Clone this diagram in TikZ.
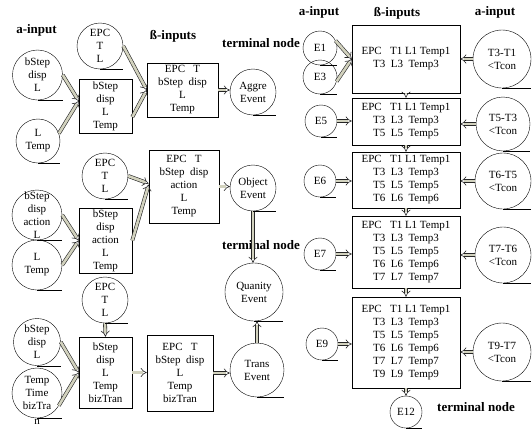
\documentclass[tikz,border=0pt]{standalone}
\usepackage{fontspec}
\setmainfont{Liberation Serif}
\usetikzlibrary{arrows.meta}
\definecolor{arrowfill}{RGB}{210,210,190}
\tikzset{
  ev/.style={circle,draw=black,thin,inner sep=0pt,minimum size=#1,align=center,font=\fontsize{11}{13}\selectfont},
  bx/.style 2 args={rectangle,draw=black,semithick,inner sep=1pt,minimum width=#1,minimum height=#2,align=center,font=\fontsize{11}{13}\selectfont},
  hd/.style={font=\fontsize{13}{15}\selectfont\bfseries},
  dbl/.style={draw=black!85,line width=0.6pt,double=arrowfill,double distance=2.6pt,-{Implies}},
  every label/.style={align=center,inner sep=0pt,font=\fontsize{11}{13}\selectfont},
}

\begin{document}
\begin{tikzpicture}[x=1pt,y=-1pt]
\useasboundingbox (0,0) rectangle (532,431);

% left part
\node[hd] (ain1) at (36.5,30) {a-input};
\node[hd] (bin1) at (173,36) {ß-inputs};
\node[hd] (term1) at (261,43) {terminal node};
\node[hd] (term2) at (261,245) {terminal node};

\node[ev=50pt] (a1) at (37.5,75) {bStep\\disp\\L};
\node[ev=44pt] (a2) at (38,141) {L\\Temp};
\node[ev=46pt] (c1) at (100,46) {EPC\\T\\L};
\node[bx={53pt}{54pt}] (box1) at (105.5,106) {bStep\\disp\\L\\Temp};
\node[bx={71pt}{54pt}] (box2) at (182.5,90) {EPC~~~T\\bStep~~disp\\L\\Temp};
\node[ev=46pt] (agg) at (253,92) {Aggre\\Event};

\node[ev=46pt] (c2) at (105,176) {EPC\\T\\L};
\node[ev=50pt,label={center:{bStep\\disp\\action\\L}}] (a3) at (37,215) {};
\node[ev=50pt] (a4) at (37,265) {L\\Temp};
\node[bx={53pt}{65pt}] (box4) at (105.5,240.5) {bStep\\disp\\action\\L\\Temp};
\node[bx={70pt}{73pt}] (box3) at (184,186.5) {EPC~~~T\\bStep~~disp\\action\\L\\Temp};
\node[ev=46pt] (obj) at (253,188) {Object\\Event};
\node[ev=58pt] (qty) at (254,292) {Quanity\\Event};

\node[ev=46pt] (c3) at (105,300) {EPC\\T\\L};
\node[ev=47pt] (a5) at (37,342) {bStep\\disp\\L};
\node[ev=50pt,label={center:{Temp\\Time\\bizTra}},label={[yshift=-1pt]below:n}] (a6) at (37,393) {};
\node[bx={53pt}{71pt}] (box5) at (105.5,372.5) {bStep\\disp\\L\\Temp\\bizTran};
\node[bx={66pt}{76pt}] (box6) at (180,373) {EPC~~~T\\bStep~~disp\\L\\Temp\\bizTran};
\node[ev=54pt] (trans) at (257,370) {Trans\\Event};

\draw[dbl] (a1.east) -- ([yshift=5pt]box1.west);
\draw[dbl] (a2.20) -- ([yshift=5pt]box1.west);
\draw[dbl] (c1.east) -- (box2.west);
\draw[dbl] ([yshift=-11pt]box1.east) -- (box2.west);
\draw[dbl] (box2.east) -- (box2.east -| agg.west);
\draw[dbl] (c2.east) -- ([yshift=3pt]box3.west);
\draw[dbl] (box4.east) -- ([yshift=2pt]box3.west);
\draw[dbl] (a3.east) -- (box4.west);
\draw[dbl] (a4.east) -- (box4.west);
\draw[dbl] (box3.east) -- (box3.east -| obj.west);
\draw[dbl] (obj.south) -- (obj.south |- qty.north);
\draw[dbl] (c3.south) -- (box5.north);
\draw[dbl] (a5.east) -- (box5.west);
\draw[dbl] (a6.-30) -- (box5.west);
\draw[dbl] (box5.east) -- (box5.east -| box6.west);
\draw[dbl] (box6.east) -- (box6.east -| trans.west);
\draw[dbl] (trans.north) -- (qty.south -| trans.north);

% right part
\node[hd] (ain2) at (319,12) {a-input};
\node[hd] (bin2) at (397,13) {ß-inputs};
\node[hd] (ain3) at (495,12) {a-input};
\node[hd] (term3) at (476,407) {terminal node};

\node[bx={108pt}{68pt}] (r1) at (406,59) {EPC~~~T1 L1 Temp1\\T3~~L3~~Temp3};
\node[bx={108pt}{47pt}] (r2) at (406,121.5) {EPC~~~T1 L1 Temp1\\T3~~L3~~Temp3\\T5~~L5~~Temp5};
\node[bx={108pt}{56pt}] (r3) at (406,180) {EPC~~~T1 L1 Temp1\\T3~~L3~~Temp3\\T5~~L5~~Temp5\\T6~~L6~~Temp6};
\node[bx={108pt}{72pt}] (r4) at (406,252) {EPC~~~T1 L1 Temp1\\T3~~L3~~Temp3\\T5~~L5~~Temp5\\T6~~L6~~Temp6\\T7~~L7~~Temp7};
\node[bx={108pt}{91pt}] (r5) at (406,342.5) {EPC~~~T1 L1 Temp1\\T3~~L3~~Temp3\\T5~~L5~~Temp5\\T6~~L6~~Temp6\\T7~~L7~~Temp7\\T9~~L9~~Temp9};

\node[ev=34pt] (e1) at (320,48) {E1};
\node[ev=34pt] (e3) at (320,77) {E3};
\node[ev=32pt] (e5) at (321,121) {E5};
\node[ev=32pt] (e6) at (320,181) {E6};
\node[ev=32pt] (e7) at (320,254) {E7};
\node[ev=32pt] (e9) at (322,344) {E9};
\node[ev=32pt] (e12) at (406,412) {E12};

\node[ev=58pt] (t1) at (502,59) {T3-T1\\<Tcon};
\node[ev=54pt] (t2) at (503,124) {T5-T3\\<Tcon};
\node[ev=56pt] (t3) at (503,181) {T6-T5\\<Tcon};
\node[ev=56pt] (t4) at (503,255) {T7-T6\\<Tcon};
\node[ev=58pt] (t5) at (502,352) {T9-T7\\<Tcon};

\draw[dbl] (e1.25) -- (r1.west);
\draw[dbl] (e3.-15) -- (r1.west);
\draw[dbl] (t1.west) -- (t1.west -| r1.east);
\draw[dbl] (e5.east) -- (e5.east -| r2.west);
\draw[dbl] (t2.west) -- (t2.west -| r2.east);
\draw[dbl] (e6.east) -- (e6.east -| r3.west);
\draw[dbl] (t3.west) -- (t3.west -| r3.east);
\draw[dbl] (e7.east) -- (e7.east -| r4.west);
\draw[dbl] (t4.west) -- (t4.west -| r4.east);
\draw[dbl] (e9.east) -- (e9.east -| r5.west);
\draw[dbl] (t5.west) -- (t5.west -| r5.east);
\draw[dbl] (r1.south) -- (r2.north);
\draw[dbl] (r2.south) -- (r3.north);
\draw[dbl] (r3.south) -- (r4.north);
\draw[dbl] (r4.south) -- (r5.north);
\draw[dbl] (r5.south) -- (e12.north);

\foreach \c in {a1,a2,a3,a4,a5,a6,c1,c2,c3,agg,obj,qty,trans,e1,e3,e5,e6,e7,e9,e12,t1,t2,t3,t4,t5}
  \draw[thin] (\c.south) -- (\c.south -| \c.east);

\end{tikzpicture}
\end{document}
